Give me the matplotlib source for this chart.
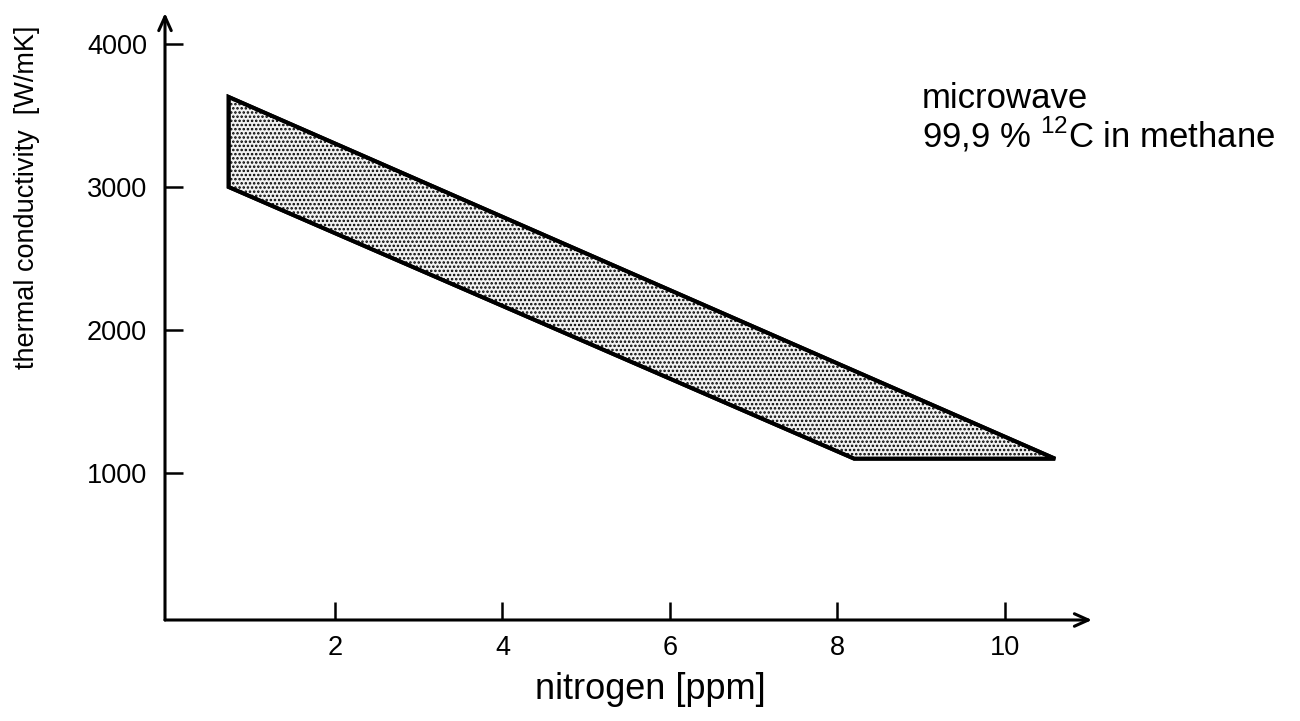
import matplotlib.pyplot as plt
from matplotlib.patches import Polygon

plt.rcParams["font.family"] = ["Liberation Sans", "DejaVu Sans"]
plt.rcParams["mathtext.fontset"] = "custom"
plt.rcParams["mathtext.rm"] = "Liberation Sans"
plt.rcParams["hatch.linewidth"] = 1.2

# data
band_x = [0.73, 10.6, 8.2, 0.73]  # nitrogen [ppm]
band_y = [3630, 1100, 1100, 3000]  # thermal conductivity [W/mK]
x_ticks = [2, 4, 6, 8, 10]
y_ticks = [1000, 2000, 3000, 4000]

fig = plt.figure(figsize=(13, 7.21), dpi=100)
ax = fig.add_axes([165 / 1300, 1 - 620 / 721, 927 / 1300, 607 / 721])
ax.set_xlim(-0.03, 11.04)
ax.set_ylim(-28, 4217)

band = Polygon(list(zip(band_x, band_y)), closed=True, facecolor="#f2f2f2",
               edgecolor="black", hatch="....", linewidth=2.8, joinstyle="miter")
ax.add_patch(band)
# redraw the outline in solid black on top of the hatch
ax.add_patch(Polygon(list(zip(band_x, band_y)), closed=True, fill=False,
                     edgecolor="black", linewidth=2.8, joinstyle="miter"))

for s in ["top", "right", "left", "bottom"]:
    ax.spines[s].set_visible(False)

# axes with arrow heads
arrow = dict(arrowstyle="->,head_length=1.0,head_width=0.45", lw=2.2, color="black",
             shrinkA=0, shrinkB=0)
ax.annotate("", xy=(1, 0), xytext=(0, 0), xycoords="axes fraction", arrowprops=arrow)
ax.annotate("", xy=(0, 1), xytext=(0, 0), xycoords="axes fraction", arrowprops=arrow)

ax.set_xticks(x_ticks)
ax.set_yticks(y_ticks)
ax.tick_params(axis="both", direction="in", length=13, width=1.8, labelsize=19.5, colors="black")
ax.tick_params(axis="x", pad=11)
ax.tick_params(axis="y", pad=13)

ax.set_xlabel("nitrogen [ppm]", fontsize=26)
ax.xaxis.set_label_coords(0.524, -0.086)
ax.set_ylabel("thermal conductivity  [W/mK]", fontsize=19.5)
ax.yaxis.set_label_coords(-0.135, 0.697)

ax.text(0.8166, 0.779, "microwave\n99,9 % $^{\\mathregular{12}}$C in methane",
        transform=ax.transAxes, fontsize=25, va="baseline", ha="left", linespacing=1.0)

fig.savefig("out.png", dpi=100)
